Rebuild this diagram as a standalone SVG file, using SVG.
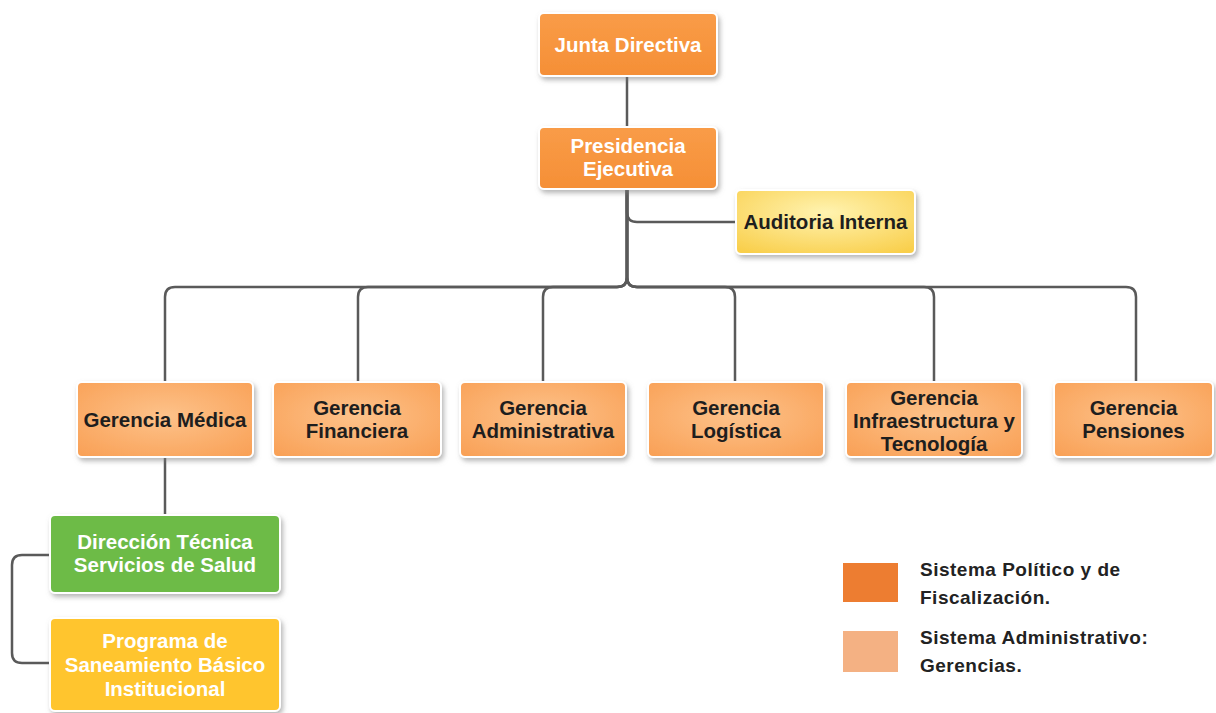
<svg xmlns="http://www.w3.org/2000/svg" width="1216" height="713" viewBox="0 0 1216 713">
<defs>
<filter id="sh" x="-10%" y="-10%" width="125%" height="135%">
<feDropShadow dx="2" dy="3" stdDeviation="2.5" flood-color="#7a7a7a" flood-opacity="0.55"/>
</filter>
<radialGradient id="gOr" cx="50%" cy="45%" r="70%">
<stop offset="0" stop-color="#FDC28A"/>
<stop offset="1" stop-color="#F9A157"/>
</radialGradient>
<linearGradient id="gTop" x1="0" y1="0" x2="0" y2="1">
<stop offset="0" stop-color="#F99C48"/>
<stop offset="1" stop-color="#F58F36"/>
</linearGradient>
<radialGradient id="gYel" cx="50%" cy="35%" r="75%">
<stop offset="0" stop-color="#FFF3B0"/>
<stop offset="1" stop-color="#F9CF4C"/>
</radialGradient>
</defs>
<style>
.box{stroke:#ffffff;stroke-width:2;filter:url(#sh)}
.top{fill:url(#gTop)}
.ger{fill:url(#gOr)}
.aud{fill:url(#gYel)}
.grn{fill:#6DBB47}
.yel{fill:#FFC52E}
.tw{font-family:"Liberation Sans",Arial,sans-serif;font-size:20.5px;font-weight:bold;fill:#ffffff;text-anchor:middle}
.td{font-family:"Liberation Sans",Arial,sans-serif;font-size:20.5px;font-weight:bold;fill:#1e1e1e;text-anchor:middle}
.lg{font-family:"Liberation Sans",Arial,sans-serif;font-size:19px;font-weight:bold;fill:#222222;letter-spacing:0.5px}
.con{fill:none;stroke:#5a5a5a;stroke-width:2.5}
</style>
<rect width="1216" height="713" fill="#ffffff"/>
<g id="connectors">
<path class="con" d="M627,76 V127"/>
<path class="con" d="M627,189 V212 Q627,222 637,222 H737"/>
<path class="con" d="M627,189 V277 Q627,287 617,287 H175 Q165,287 165,297 V382"/>
<path class="con" d="M627,189 V277 Q627,287 617,287 H368 Q358,287 358,297 V382"/>
<path class="con" d="M627,189 V277 Q627,287 617,287 H553 Q543,287 543,297 V382"/>
<path class="con" d="M627,189 V277 Q627,287 637,287 H725 Q735,287 735,297 V382"/>
<path class="con" d="M627,189 V277 Q627,287 637,287 H924 Q934,287 934,297 V382"/>
<path class="con" d="M627,189 V277 Q627,287 637,287 H1126 Q1136,287 1136,297 V382"/>
<path class="con" d="M165,457 V515"/>
<path class="con" d="M50,555 H22 Q12,555 12,565 V653 Q12,663 22,663 H50"/>
</g>
<g id="junta">
<rect class="box top" x="539" y="13" width="178" height="63" rx="5"/>
<text class="tw" x="628" y="52">Junta Directiva</text>
</g>
<g id="presidencia">
<rect class="box top" x="539" y="127" width="178" height="62" rx="5"/>
<text class="tw" x="628" y="153">Presidencia</text>
<text class="tw" x="628" y="176">Ejecutiva</text>
</g>
<g id="auditoria">
<rect class="box aud" x="736" y="190" width="179" height="64" rx="5"/>
<text class="td" x="825.5" y="229">Auditoria Interna</text>
</g>
<g id="g-medica">
<rect class="box ger" x="77" y="382" width="176" height="75" rx="5"/>
<text class="td" x="165" y="427">Gerencia Médica</text>
</g>
<g id="g-financiera">
<rect class="box ger" x="273" y="382" width="168" height="75" rx="5"/>
<text class="td" x="357" y="415">Gerencia</text>
<text class="td" x="357" y="438">Financiera</text>
</g>
<g id="g-administrativa">
<rect class="box ger" x="460" y="382" width="166" height="75" rx="5"/>
<text class="td" x="543" y="415">Gerencia</text>
<text class="td" x="543" y="438">Administrativa</text>
</g>
<g id="g-logistica">
<rect class="box ger" x="648" y="382" width="176" height="75" rx="5"/>
<text class="td" x="736" y="415">Gerencia</text>
<text class="td" x="736" y="438">Logística</text>
</g>
<g id="g-infraestructura">
<rect class="box ger" x="846" y="382" width="176" height="75" rx="5"/>
<text class="td" x="934" y="405">Gerencia</text>
<text class="td" x="934" y="428">Infraestructura y</text>
<text class="td" x="934" y="451">Tecnología</text>
</g>
<g id="g-pensiones">
<rect class="box ger" x="1054" y="382" width="159" height="75" rx="5"/>
<text class="td" x="1133.5" y="415">Gerencia</text>
<text class="td" x="1133.5" y="438">Pensiones</text>
</g>
<g id="direccion">
<rect class="box grn" x="50" y="515" width="230" height="78" rx="5"/>
<text class="tw" x="165" y="549">Dirección Técnica</text>
<text class="tw" x="165" y="572">Servicios de Salud</text>
</g>
<g id="programa">
<rect class="box yel" x="50" y="618" width="230" height="93" rx="5"/>
<text class="tw" x="165" y="648">Programa de</text>
<text class="tw" x="165" y="672">Saneamiento Básico</text>
<text class="tw" x="165" y="696">Institucional</text>
</g>
<g id="legend">
<rect x="843" y="563" width="55" height="39" fill="#ED7D31"/>
<rect x="843" y="631" width="55" height="41" fill="#F4B183"/>
<text class="lg" x="920" y="576">Sistema Político y de</text>
<text class="lg" x="920" y="604">Fiscalización.</text>
<text class="lg" x="920" y="644">Sistema Administrativo:</text>
<text class="lg" x="920" y="672">Gerencias.</text>
</g>
</svg>
